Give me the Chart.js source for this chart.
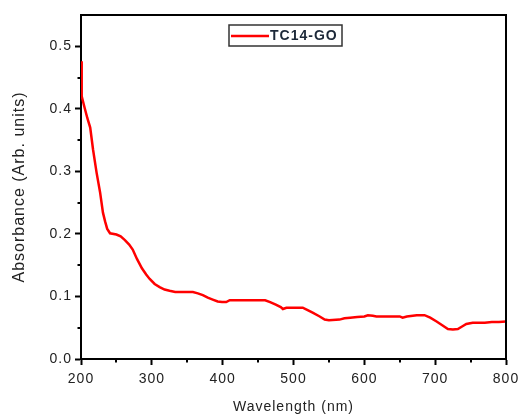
<!DOCTYPE html>
<html>
<head>
<meta charset="utf-8">
<script src="https://cdn.jsdelivr.net/npm/chart.js@4/dist/chart.umd.min.js"></script>
<style>
html,body{margin:0;padding:0;background:#fff;}
canvas{display:block;}
</style>
</head>
<body>
<canvas id="c" width="519" height="416"></canvas>
<script>
const seriesLabel = 'TC14-GO';
const wavelength = [200,201,205,209,213,217,222,227,231,234,237,241,250,256,262,268,273,279,286,292,297,304,311,318,325,333,345,358,365,372,379,386,393,399,405,410,430,450,460,467,475,482,485,490,500,513,520,527,537,544,550,565,572,580,590,600,605,612,617,635,650,654,660,674,685,693,702,710,718,725,732,738,744,753,770,780,790,800];
const absorbance = [0.476,0.42,0.402,0.385,0.37,0.335,0.298,0.266,0.234,0.22,0.208,0.201,0.199,0.196,0.19,0.183,0.175,0.16,0.145,0.135,0.128,0.12,0.115,0.111,0.109,0.107,0.107,0.107,0.105,0.102,0.098,0.095,0.092,0.091,0.091,0.094,0.094,0.094,0.094,0.091,0.087,0.083,0.080,0.082,0.082,0.082,0.078,0.074,0.068,0.063,0.062,0.063,0.065,0.066,0.067,0.068,0.070,0.069,0.068,0.068,0.068,0.066,0.068,0.070,0.070,0.066,0.060,0.054,0.048,0.047,0.048,0.052,0.056,0.058,0.058,0.059,0.059,0.060];
const xMajorTicks = [200,300,400,500,600,700,800];
const xMinorTicks = [250,350,450,550,650,750];
const yMajorTicks = [0.0,0.1,0.2,0.3,0.4,0.5];
const yMinorTicks = [0.05,0.15,0.25,0.35,0.45];

const FONT = "'Liberation Sans', Arial, sans-serif";
const TEXT = '#222';

const framePlugin = {
  id: 'frame',
  beforeDraw(chart) {
    chart.ctx.letterSpacing = '1px';
  },
  afterDraw(chart) {
    const ctx = chart.ctx;
    const a = chart.chartArea;
    const xs = chart.scales.x, ys = chart.scales.y;
    ctx.save();
    ctx.strokeStyle = '#000';
    ctx.lineWidth = 2;
    ctx.beginPath();
    ctx.moveTo(a.left - 1, a.top);
    ctx.lineTo(a.right, a.top);
    ctx.lineTo(a.right, a.bottom);
    ctx.stroke();
    // minor ticks
    ctx.beginPath();
    xMinorTicks.forEach(v => {
      const px = Math.round(xs.getPixelForValue(v));
      ctx.moveTo(px, a.bottom);
      ctx.lineTo(px, a.bottom + 3.5);
    });
    yMinorTicks.forEach(v => {
      const py = Math.round(ys.getPixelForValue(v));
      ctx.moveTo(a.left, py);
      ctx.lineTo(a.left - 3.5, py);
    });
    ctx.stroke();
    // legend box
    const bx = 229, by = 25, bw = 113, bh = 21;
    ctx.fillStyle = '#fff';
    ctx.fillRect(bx, by, bw, bh);
    ctx.strokeStyle = '#333';
    ctx.lineWidth = 1.5;
    ctx.strokeRect(bx, by, bw, bh);
    const ds = chart.data.datasets[0];
    ctx.strokeStyle = ds.borderColor;
    ctx.lineWidth = 2.5;
    ctx.beginPath();
    ctx.moveTo(bx + 2, by + bh / 2 + 0.5);
    ctx.lineTo(bx + 40, by + bh / 2 + 0.5);
    ctx.stroke();
    ctx.fillStyle = '#1c2838';
    ctx.font = 'bold 14px ' + FONT;
    ctx.letterSpacing = '1px';
    ctx.textBaseline = 'middle';
    ctx.textAlign = 'left';
    ctx.fillText(ds.label, bx + 41, by + bh / 2 + 1);
    ctx.restore();
  }
};

new Chart(document.getElementById('c'), {
  type: 'line',
  data: {
    datasets: [{
      label: seriesLabel,
      data: wavelength.map((x, i) => ({ x: x, y: absorbance[i] })),
      borderColor: '#ff0000',
      borderWidth: 2.5,
      pointRadius: 0,
      tension: 0,
      fill: false
    }]
  },
  options: {
    responsive: false,
    animation: false,
    layout: { padding: { top: 15, right: 13, left: 0, bottom: 0 } },
    plugins: { legend: { display: false }, tooltip: { enabled: false } },
    scales: {
      x: {
        type: 'linear',
        min: 200, max: 800,
        afterBuildTicks: s => { s.ticks = xMajorTicks.map(v => ({ value: v })); },
        afterFit: s => { s.height = 57; s.paddingLeft = 0; s.paddingRight = 0; },
        ticks: { font: { family: FONT, size: 14 }, color: TEXT, padding: 6, maxRotation: 0, autoSkip: false,
                 callback: v => String(v) },
        grid: { display: true, drawOnChartArea: false, drawTicks: true, tickLength: 6, tickColor: '#000', tickWidth: 2 },
        border: { display: true, color: '#000', width: 2 },
        title: { display: true, text: 'Wavelength (nm)', font: { family: FONT, size: 14 }, color: TEXT, padding: { top: 0, bottom: 0 } }
      },
      y: {
        type: 'linear',
        min: 0, max: 0.55,
        afterBuildTicks: s => { s.ticks = yMajorTicks.map(v => ({ value: v })); },
        afterFit: s => { s.width = 81; s.paddingTop = 0; s.paddingBottom = 0; },
        ticks: { font: { family: FONT, size: 14 }, color: TEXT, padding: 3, autoSkip: false,
                 callback: v => Number(v).toFixed(1) },
        grid: { display: true, drawOnChartArea: false, drawTicks: true, tickLength: 6, tickColor: '#000', tickWidth: 2 },
        border: { display: true, color: '#000', width: 2 },
        title: { display: true, text: 'Absorbance (Arb. units)', font: { family: FONT, size: 16 }, color: TEXT, padding: { top: 10, bottom: 0 } }
      }
    }
  },
  plugins: [framePlugin]
});
</script>
</body>
</html>
